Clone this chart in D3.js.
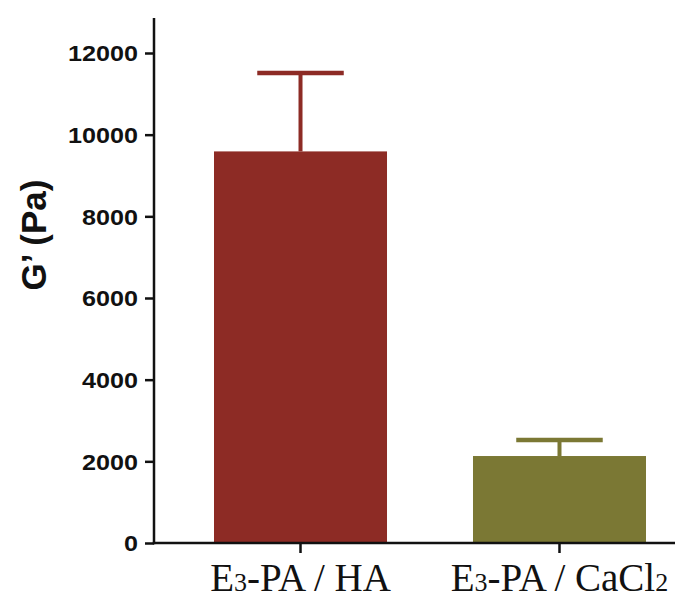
<!DOCTYPE html>
<html>
<head>
<meta charset="utf-8">
<script src="https://cdn.jsdelivr.net/npm/d3@7"></script>
<style>
  html, body { margin: 0; padding: 0; background: #fff; }
  svg { display: block; }
</style>
</head>
<body>
<svg id="chart" width="675" height="597"></svg>
<script>
// Storage modulus of the two gels
const groups = ["HA", "CaCl"];
const groupPrefix = ["E", "E"];
const groupSub1 = ["3", "3"];
const groupMid = ["-PA / HA", "-PA / CaCl"];
const groupSub2 = ["", "2"];
const means = [9590, 2130];
const errors = [1920, 390];
const barColors = ["#8d2b25", "#7b7834"];
const yTicks = [0, 2000, 4000, 6000, 8000, 10000, 12000];

const svg = d3.select("#chart");
const axisX = 154, axisBottom = 543, axisTop = 18, axisRight = 675;

const y = d3.scaleLinear().domain([0, 12000]).range([axisBottom, 53]);
const x = d3.scaleBand().domain(groups).range([154, 706]).paddingInner(0.332).paddingOuter(0.2317);

// bars
svg.selectAll("rect.bar").data(means).join("rect")
  .attr("class", "bar")
  .attr("x", (d, i) => x(groups[i]))
  .attr("width", x.bandwidth())
  .attr("y", d => y(d))
  .attr("height", d => y(0) - y(d))
  .attr("fill", (d, i) => barColors[i]);

// upper error bars
const eb = svg.append("g");
means.forEach((m, i) => {
  const cx = x(groups[i]) + x.bandwidth() / 2;
  const half = x.bandwidth() / 4;
  eb.append("line")
    .attr("x1", cx).attr("x2", cx)
    .attr("y1", y(m)).attr("y2", y(m + errors[i]))
    .attr("stroke", barColors[i]).attr("stroke-width", 4);
  eb.append("line")
    .attr("x1", cx - half).attr("x2", cx + half)
    .attr("y1", y(m + errors[i])).attr("y2", y(m + errors[i]))
    .attr("stroke", barColors[i]).attr("stroke-width", 4.5);
});

// y axis
const yAxis = d3.axisLeft(y).tickValues(yTicks).tickSize(9).tickPadding(7).tickFormat(d3.format("d"));
const gy = svg.append("g").attr("transform", `translate(${axisX},0)`).call(yAxis);
gy.select(".domain").remove();
gy.selectAll(".tick line").attr("stroke", "#111").attr("stroke-width", 2.5);
gy.selectAll(".tick text")
  .attr("fill", "#111")
  .style("font-family", "'Liberation Sans', Arial, sans-serif")
  .style("font-weight", "bold")
  .style("font-size", "22px")
  .attr("dy", "0.36em")
  .attr("textLength", d => 14 * String(d).length)
  .attr("lengthAdjust", "spacingAndGlyphs");
svg.append("line")
  .attr("x1", axisX).attr("x2", axisX)
  .attr("y1", axisTop).attr("y2", axisBottom + 1.25)
  .attr("stroke", "#111").attr("stroke-width", 2.5);

// x axis
svg.append("line")
  .attr("x1", axisX - 1.25).attr("x2", axisRight)
  .attr("y1", axisBottom).attr("y2", axisBottom)
  .attr("stroke", "#111").attr("stroke-width", 2.5);
groups.forEach((g, i) => {
  const cx = x(g) + x.bandwidth() / 2;
  svg.append("line")
    .attr("x1", cx).attr("x2", cx)
    .attr("y1", axisBottom).attr("y2", axisBottom + 10)
    .attr("stroke", "#111").attr("stroke-width", 2.5);
  const t = svg.append("text")
    .attr("x", cx).attr("y", 591)
    .attr("text-anchor", "middle")
    .attr("fill", "#111")
    .style("font-family", "'Liberation Serif', 'Times New Roman', serif")
    .style("font-size", "39px");
  t.append("tspan").text(groupPrefix[i]);
  t.append("tspan").style("font-size", "26px").text(groupSub1[i]);
  t.append("tspan").text(groupMid[i]);
  if (groupSub2[i]) t.append("tspan").style("font-size", "26px").text(groupSub2[i]);
});

// y axis title
svg.append("text")
  .attr("transform", "translate(46,235) rotate(-90)")
  .attr("text-anchor", "middle")
  .attr("fill", "#111")
  .style("font-family", "'Liberation Sans', Arial, sans-serif")
  .style("font-weight", "bold")
  .style("font-size", "35px")
  .text("G\u2019 (Pa)");
</script>
</body>
</html>
